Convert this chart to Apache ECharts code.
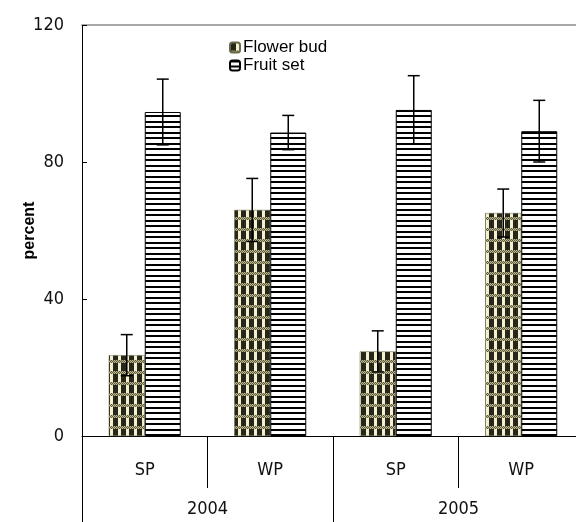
<!DOCTYPE html>
<html>
<head>
<meta charset="utf-8">
<script src="https://cdn.jsdelivr.net/npm/echarts@6/dist/echarts.min.js"></script>
<style>
  html, body { margin: 0; padding: 0; background: #fff; }
  #chart { width: 576px; height: 522px; }
</style>
</head>
<body>
<div id="chart"></div>
<script>
  // data
  var groups = ['SP', 'WP', 'SP', 'WP'];
  var years = ['2004', '2005'];
  var seriesNames = ['Flower bud', 'Fruit set'];
  var flowerBud = [23.6, 66.0, 24.7, 65.1];
  var flowerBudErr = [6.0, 9.2, 6.0, 7.0];
  var fruitSet = [94.6, 88.6, 95.2, 89.0];
  var fruitSetErr = [9.6, 5.0, 10.0, 9.0];
  var yTicks = [0, 40, 80, 120];

  var narrow = "'Liberation Sans Narrow', 'DejaVu Sans Condensed', sans-serif";
  var BAR_W = 36;

  // checkered fill for flower bud
  function checkPattern() {
    var c = document.createElement('canvas');
    c.width = 8; c.height = 11;
    var g = c.getContext('2d');
    g.fillStyle = '#f3efcf';
    g.fillRect(0, 0, 8, 11);
    g.fillStyle = '#26261a';
    g.fillRect(1, 0, 5, 8);
    for (var x = 0; x < 8; x++) {
      for (var y = 8; y < 11; y++) {
        g.fillStyle = ((x + y) % 2) ? '#5e5c3c' : '#bdb994';
        g.fillRect(x, y, 1, 1);
      }
    }
    return c;
  }
  // horizontal stripes for fruit set
  function stripePattern() {
    var c = document.createElement('canvas');
    c.width = 4; c.height = 11;
    var g = c.getContext('2d');
    g.fillStyle = '#fff';
    g.fillRect(0, 0, 4, 11);
    g.fillStyle = '#000';
    g.fillRect(0, 0, 4, 2);
    g.fillRect(0, 5, 4, 2);
    return c;
  }

  function errData(vals, errs) {
    var out = [];
    for (var i = 0; i < vals.length; i++) {
      out.push([i, vals[i] - errs[i], vals[i] + errs[i]]);
    }
    return out;
  }

  function errRender(offset) {
    return function (params, api) {
      var lo = api.coord([api.value(0), api.value(1)]);
      var hi = api.coord([api.value(0), api.value(2)]);
      var x = lo[0] + offset;
      var st = { stroke: '#000', lineWidth: 1.5 };
      return {
        type: 'group',
        children: [
          { type: 'line', shape: { x1: x, y1: hi[1], x2: x, y2: lo[1] }, style: st },
          { type: 'line', shape: { x1: x - 6, y1: hi[1], x2: x + 6, y2: hi[1] }, style: st },
          { type: 'line', shape: { x1: x - 6, y1: lo[1], x2: x + 6, y2: lo[1] }, style: st }
        ]
      };
    };
  }

  var chart = echarts.init(document.getElementById('chart'));
  chart.setOption({
    backgroundColor: '#fff',
    animation: false,
    grid: { left: 82, right: -8, top: 25, bottom: 86, outerBoundsMode: 'none', containLabel: false },
    legend: {
      data: seriesNames,
      orient: 'vertical',
      left: 224,
      top: 34,
      itemWidth: 10,
      itemHeight: 10,
      itemGap: 1,
      textStyle: { fontFamily: 'Liberation Sans, Arial, sans-serif', fontSize: 17, color: '#000', padding: [0, 0, 0, -2] }
    },
    xAxis: [{
      type: 'category',
      data: groups,
      axisLine: { show: true, lineStyle: { color: '#000', width: 1 } },
      axisTick: { show: true, length: 52, lineStyle: { color: '#000' } },
      axisLabel: { margin: 25, fontFamily: narrow, fontSize: 18, color: '#111' }
    }, {
      type: 'category',
      data: years,
      position: 'bottom',
      axisLine: { show: false },
      axisTick: { show: true, length: 90, lineStyle: { color: '#000' } },
      axisLabel: { margin: 64, fontFamily: narrow, fontSize: 18, color: '#111' }
    }, {
      type: 'category',
      data: years,
      position: 'top',
      axisLine: { show: true, lineStyle: { color: '#a8a8a8', width: 2 } },
      axisTick: { show: false },
      axisLabel: { show: false }
    }],
    yAxis: {
      type: 'value',
      min: yTicks[0],
      max: yTicks[yTicks.length - 1],
      interval: 40,
      name: 'percent',
      nameLocation: 'middle',
      nameGap: 44,
      nameMoveOverlap: false,
      nameTextStyle: { fontFamily: 'Liberation Sans, Arial, sans-serif', fontWeight: 'bold', fontSize: 16, color: '#000' },
      axisLine: { show: true, lineStyle: { color: '#000' } },
      axisTick: { show: true, inside: true, length: 5, lineStyle: { color: '#000' } },
      axisLabel: { margin: 18, fontFamily: narrow, fontSize: 18, color: '#111' },
      splitLine: { show: false }
    },
    series: [{
      name: seriesNames[0],
      type: 'bar',
      barWidth: BAR_W,
      barGap: '0%',
      data: flowerBud,
      itemStyle: { color: { image: checkPattern(), repeat: 'repeat' }, borderColor: '#6b6a48', borderWidth: 0.5 }
    }, {
      name: seriesNames[1],
      type: 'bar',
      barWidth: BAR_W,
      barGap: '0%',
      data: fruitSet,
      itemStyle: { color: { image: stripePattern(), repeat: 'repeat' }, borderColor: '#000', borderWidth: 1 }
    }, {
      type: 'custom',
      renderItem: errRender(-BAR_W / 2),
      data: errData(flowerBud, flowerBudErr),
      z: 5
    }, {
      type: 'custom',
      renderItem: errRender(BAR_W / 2),
      data: errData(fruitSet, fruitSetErr),
      z: 5
    }]
  });
</script>
</body>
</html>
